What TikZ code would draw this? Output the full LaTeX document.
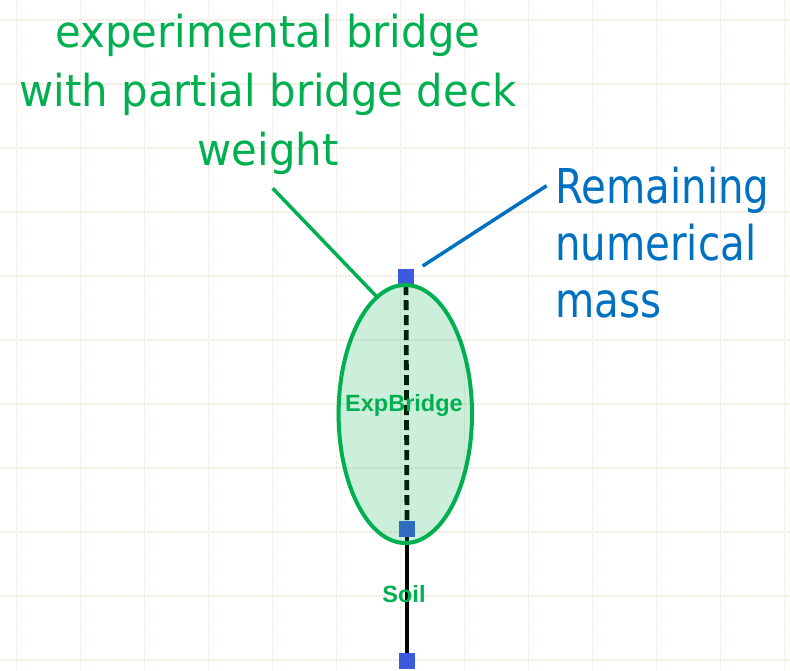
\documentclass[tikz,border=0pt]{standalone}
\usepackage{fontspec}
\usetikzlibrary{shapes.geometric}
\setmainfont{Liberation Sans}
\newfontfamily\titlefont[FakeStretch=0.95]{DejaVu Sans}
\newfontfamily\remfont[FakeStretch=0.84]{DejaVu Sans}
\definecolor{offgreen}{RGB}{0,176,80}
\definecolor{offblue}{RGB}{0,112,192}
\definecolor{sqblue}{RGB}{61,90,223}
\definecolor{gridcol}{RGB}{243,234,222}
\tikzset{
  gridline/.style={draw=gridcol, line width=1.3pt, dash pattern=on 2pt off 1pt},
  nodesq/.style={rectangle, fill=sqblue, minimum size=16pt, inner sep=0pt},
  elembox/.style={ellipse, draw=offgreen, line width=4pt, fill=offgreen, fill opacity=0.2,
    draw opacity=1, minimum width=133.4pt, minimum height=258pt, inner sep=0pt},
  elemlabel/.style={text=offgreen, font=\fontsize{23.5}{26}\selectfont\bfseries, inner sep=0pt, anchor=base},
  titletext/.style={text=offgreen, font=\titlefont\fontsize{44}{59}\selectfont, align=center, inner sep=0pt, anchor=base},
  remtext/.style={text=offblue, font=\remfont\fontsize{48}{57}\selectfont, align=left, inner sep=0pt, anchor=base west},
  leader/.style={line width=3.5pt},
}
\begin{document}
\begin{tikzpicture}[x=1pt, y=-1pt]
\useasboundingbox (0,0) rectangle (790,670);
% grid
\foreach \k in {0,...,10} { \draw[gridline] (0,20+64*\k) -- (790,20+64*\k); }
\foreach \k in {0,...,12} { \draw[gridline] (16.5+64*\k,0) -- (16.5+64*\k,670); }
% element nodes
\node[nodesq] (n1) at (406,277) {};
\node[nodesq] (n2) at (407,529) {};
\node[nodesq] (n3) at (407,661) {};
\draw[black, line width=4.8pt, dash pattern=on 10pt off 5pt] (n1) -- (n2);
\draw[black, line width=4.8pt] (n2) -- (n3);
% experimental bridge element
\node[elembox] (exp) at (405.3,414) {};
\node[elemlabel] (explabel) at (404,411.7) {ExpBridge};
\node[elemlabel] (soillabel) at (404,602.5) {Soil};
% annotations (base anchor = last line)
\node[titletext] (title) at (268,165) {experimental bridge\\with partial bridge deck\\weight};
\node[remtext] (rem) at (555,317) {Remaining\\numerical\\mass};
\coordinate (gtip) at (272.7,188.3);
\coordinate (btip) at (546.7,185.7);
\coordinate (bend) at (422.7,266);
\draw[leader, offgreen] (gtip) -- (exp.104.6);
\draw[leader, offblue] (btip) -- (bend);
\end{tikzpicture}
\end{document}
